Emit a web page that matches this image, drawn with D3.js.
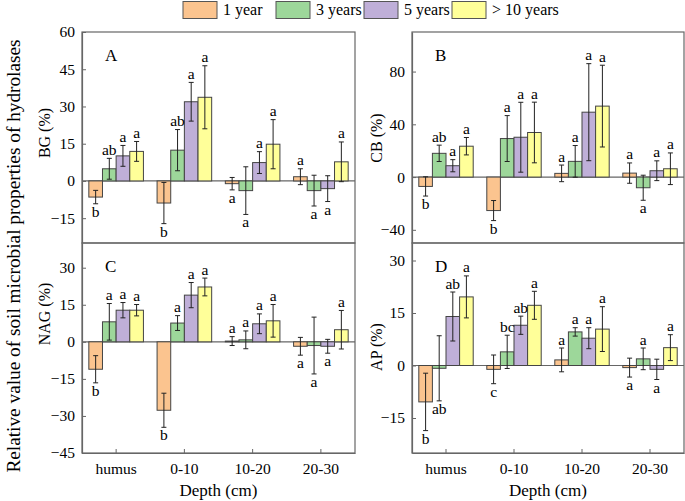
<!DOCTYPE html>
<html><head><meta charset="utf-8">
<script src="https://cdn.jsdelivr.net/npm/d3@7"></script>
<style>body{margin:0;background:#fff;} svg text{font-family:"Liberation Serif","Times New Roman",serif !important;}</style>
</head><body>
<svg id="chart" width="685" height="501"></svg>
<script>
const depths = ["humus", "0-10", "10-20", "20-30"];
const seriesNames = ["1 year", "3 years", "5 years", "> 10 years"];
const colors = ["#FBC48F", "#9DD79A", "#BFAFD8", "#FFFF99"];

// rows = depth, columns = series
const bgMeans = [[-6.5, 4.9, 10.1, 11.9], [-8.9, 12.4, 31.9, 33.7], [-1.1, -3.9, 7.4, 14.8], [1.7, -3.9, -3.1, 7.7]];
const bgErr = [[2.7, 4.2, 4.2, 4.0], [8.3, 8.3, 7.8, 12.7], [2.5, 9.6, 4.4, 9.9], [3.2, 6.2, 5.2, 8.0]];
const bgLetters = [["b", "ab", "a", "a"], ["b", "ab", "a", "a"], ["a", "a", "a", "a"], ["a", "a", "a", "a"]];

const cbMeans = [[-7.1, 18.0, 8.6, 23.4], [-25.4, 29.2, 30.2, 33.8], [2.8, 11.9, 49.2, 53.8], [3.0, -8.1, 4.8, 6.3]];
const cbErr = [[7.3, 6.2, 4.6, 6.6], [7.6, 17.4, 26.5, 23.0], [6.3, 12.0, 36.8, 31.0], [7.7, 9.5, 7.5, 12.0]];
const cbLetters = [["b", "ab", "a", "a"], ["b", "a", "a", "a"], ["a", "a", "a", "a"], ["a", "a", "a", "a"]];

const nagMeans = [[-11.1, 8.1, 12.8, 12.8], [-27.7, 7.6, 18.9, 22.2], [0.3, 0.8, 7.3, 8.5], [-1.8, -1.5, -1.8, 4.9]];
const nagErr = [[5.5, 7.4, 3.1, 2.3], [6.9, 3.0, 5.1, 3.6], [1.8, 3.6, 4.0, 6.6], [3.6, 11.5, 2.8, 7.8]];
const nagLetters = [["b", "a", "a", "a"], ["b", "a", "a", "a"], ["a", "a", "a", "a"], ["a", "a", "a", "a"]];

const apMeans = [[-10.4, -0.8, 14.0, 19.6], [-1.1, 3.9, 11.5, 17.2], [1.6, 9.6, 7.8, 10.4], [-0.6, 1.9, -1.1, 5.1]];
const apErr = [[8.2, 9.3, 7.0, 6.0], [4.1, 4.75, 2.6, 4.0], [3.4, 1.2, 3.0, 6.4], [2.7, 3.1, 2.9, 3.7]];
const apLetters = [["b", "ab", "ab", "a"], ["c", "bc", "ab", "a"], ["a", "a", "a", "a"], ["a", "a", "a", "a"]];

const bgTicks = [-15, 0, 15, 30, 45, 60];
const cbTicks = [-40, 0, 40, 80];
const nagTicks = [-45, -30, -15, 0, 15, 30];
const apTicks = [-15, 0, 15, 30];

const svg = d3.select("#chart");
const axisColor = "#666";

const panels = [
  {letter: "A", label: "BG (%)", means: bgMeans, err: bgErr, letters: bgLetters, ticks: bgTicks, domain: [-25, 60], x0: 82, x1: 355, y0: 32, y1: 243, bottom: false, labelY: 133, labelX: 50},
  {letter: "B", label: "CB (%)", means: cbMeans, err: cbErr, letters: cbLetters, ticks: cbTicks, domain: [-50, 110], x0: 412, x1: 684, y0: 32, y1: 243, bottom: false, labelY: 138, labelX: 382},
  {letter: "C", label: "NAG (%)", means: nagMeans, err: nagErr, letters: nagLetters, ticks: nagTicks, domain: [-45, 40], x0: 82, x1: 355, y0: 243, y1: 453, bottom: true, labelY: 314, labelX: 50},
  {letter: "D", label: "AP (%)", means: apMeans, err: apErr, letters: apLetters, ticks: apTicks, domain: [-25, 35], x0: 412, x1: 684, y0: 243, y1: 453, bottom: true, labelY: 347, labelX: 382}
];

panels.forEach(p => {
  const g = svg.append("g");
  const x = d3.scaleBand().domain(depths).range([p.x0, p.x1]).paddingInner(0.2).paddingOuter(0.1);
  const xs = d3.scaleBand().domain(seriesNames).range([0, x.bandwidth()]);
  const y = d3.scaleLinear().domain(p.domain).range([p.y1, p.y0]);

  g.append("rect").attr("x", p.x0).attr("y", p.y0).attr("width", p.x1 - p.x0).attr("height", p.y1 - p.y0)
    .attr("fill", "none").attr("stroke", axisColor).attr("stroke-width", 1.2);

  const ya = g.append("g").attr("transform", `translate(${p.x0},0)`)
    .call(d3.axisLeft(y).tickValues(p.ticks).tickSizeInner(-4).tickSizeOuter(0).tickPadding(7).tickFormat(d3.format("d")));
  ya.select(".domain").attr("stroke", axisColor).attr("stroke-width", 1.2);
  ya.selectAll(".tick line").attr("stroke", axisColor);
  ya.selectAll(".tick text").attr("font-size", 15.5).attr("fill", "#000");

  if (p.bottom) {
    const xa = g.append("g").attr("transform", `translate(0,${p.y1})`)
      .call(d3.axisBottom(x).tickSizeInner(-4).tickSizeOuter(0).tickPadding(10));
    xa.select(".domain").attr("stroke", axisColor).attr("stroke-width", 1.2);
    xa.selectAll(".tick line").attr("stroke", axisColor);
    xa.selectAll(".tick text").attr("font-size", 15.5).attr("fill", "#000");
  }

  g.append("line").attr("x1", p.x0).attr("x2", p.x1).attr("y1", y(0)).attr("y2", y(0))
    .attr("stroke", axisColor).attr("stroke-width", 1.2);

  const items = [];
  depths.forEach((d, i) => seriesNames.forEach((s, j) => items.push({d, s, j, v: p.means[i][j], e: p.err[i][j], l: p.letters[i][j]})));
  const cx = d => x(d.d) + xs(d.s) + xs.bandwidth() / 2;
  g.selectAll("rect.bar").data(items).enter().append("rect").attr("class", "bar")
    .attr("x", d => x(d.d) + xs(d.s))
    .attr("width", xs.bandwidth())
    .attr("y", d => y(Math.max(0, d.v)))
    .attr("height", d => Math.abs(y(d.v) - y(0)))
    .attr("fill", d => colors[d.j]).attr("stroke", "#444").attr("stroke-width", 1);

  const eb = g.selectAll("g.eb").data(items).enter().append("g").attr("class", "eb")
    .attr("stroke", "#222").attr("stroke-width", 1);
  eb.append("line").attr("x1", cx).attr("x2", cx)
    .attr("y1", d => y(d.v + d.e)).attr("y2", d => y(d.v - d.e));
  eb.append("line").attr("x1", d => cx(d) - 2.5).attr("x2", d => cx(d) + 2.5)
    .attr("y1", d => y(d.v + d.e)).attr("y2", d => y(d.v + d.e));
  eb.append("line").attr("x1", d => cx(d) - 2.5).attr("x2", d => cx(d) + 2.5)
    .attr("y1", d => y(d.v - d.e)).attr("y2", d => y(d.v - d.e));

  g.selectAll("text.sig").data(items).enter().append("text").attr("class", "sig")
    .attr("x", cx)
    .attr("y", d => d.v >= 0 ? y(d.v + d.e) - 3.5 : y(d.v - d.e) + 13)
    .attr("text-anchor", "middle").attr("font-size", 15.5).text(d => d.l);

  g.append("text").attr("x", p.x0 + 23).attr("y", p.y0 + 29).attr("font-size", 17).text(p.letter);

  g.append("text").attr("transform", `translate(${p.labelX},${p.labelY}) rotate(-90)`)
    .attr("text-anchor", "middle").attr("font-size", 16).text(p.label);
});

[[82, 355], [412, 684]].forEach(r => {
  svg.append("text").attr("x", (r[0] + r[1]) / 2).attr("y", 496).attr("text-anchor", "middle")
    .attr("font-size", 17).text("Depth (cm)");
});

svg.append("text").attr("transform", "translate(20,256) rotate(-90)").attr("text-anchor", "middle")
  .attr("font-size", 19.3).text("Relative value of soil microbial properties of hydrolases");

const legendX = [183, 276, 364, 452];
const lg = svg.append("g");
seriesNames.forEach((s, i) => {
  lg.append("rect").attr("x", legendX[i]).attr("y", 1.5).attr("width", 34).attr("height", 17)
    .attr("fill", colors[i]).attr("stroke", "#555").attr("stroke-width", 1);
  lg.append("text").attr("x", legendX[i] + 40).attr("y", 15).attr("font-size", 16).text(s);
});
</script>
</body></html>
